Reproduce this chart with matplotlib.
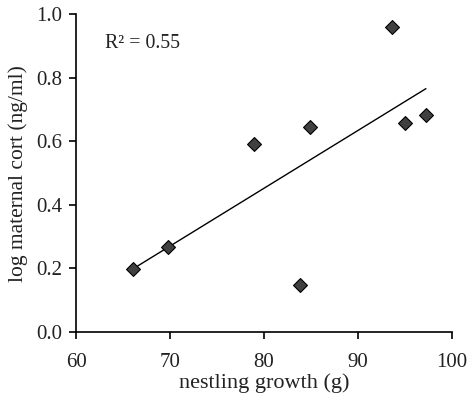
import numpy as np
import matplotlib
matplotlib.use('Agg')
import matplotlib.pyplot as plt

# data
growth = [66.0, 69.8, 78.9, 84.9, 83.8, 93.6, 95.0, 97.2]
log_cort = [0.197, 0.267, 0.593, 0.646, 0.147, 0.959, 0.659, 0.683]
x_ticks = [60, 70, 80, 90, 100]
y_ticks = [0.0, 0.2, 0.4, 0.6, 0.8, 1.0]

plt.rcParams['font.family'] = ['Liberation Serif', 'DejaVu Serif']
TXT = '#222222'

fig = plt.figure(figsize=(4.67, 3.97), dpi=100)
ax = fig.add_axes([0.163, 0.1645, 0.805, 0.799])

# linear trend line
slope, intercept = np.polyfit(growth, log_cort, 1)
xs = np.array([min(growth), max(growth)])
ax.plot(xs, slope * xs + intercept, color='black', linewidth=1.0, zorder=2)

ax.scatter(growth, log_cort, marker='D', s=50, facecolor='#404040',
           edgecolor='black', linewidth=0.8, zorder=3)

r2 = np.corrcoef(growth, log_cort)[0, 1] ** 2
ax.text(63.1, 0.907, f'R² = {r2:.2f}', fontsize=14.3, ha='left', va='center', color=TXT)

ax.set_xlim(60, 100)
ax.set_ylim(0, 1.0)
ax.set_xticks(x_ticks)
ax.set_yticks(y_ticks)
ax.set_yticklabels([f'{v:.1f}' for v in y_ticks])
ax.tick_params(direction='out', length=5, width=1.2, labelsize=15, colors='black',
               labelcolor=TXT)
ax.tick_params(axis='x', pad=10)
ax.tick_params(axis='y', pad=5)
ax.spines['top'].set_visible(False)
ax.spines['right'].set_visible(False)
ax.spines['left'].set_linewidth(1.2)
ax.spines['bottom'].set_linewidth(1.2)

ax.set_xlabel('nestling growth (g)', fontsize=16, labelpad=1, color=TXT)
ax.set_ylabel('log maternal cort (ng/ml)', fontsize=15.5, labelpad=6, color=TXT)

fig.savefig('out.png', dpi=100)
